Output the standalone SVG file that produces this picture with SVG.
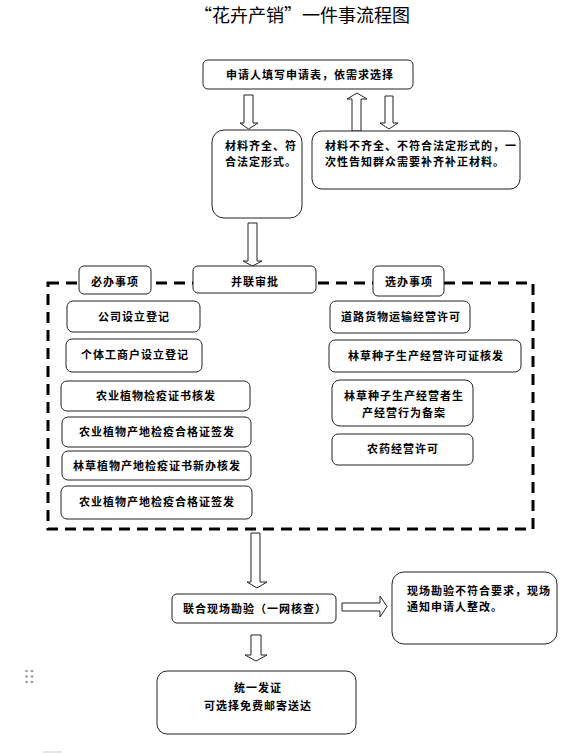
<svg xmlns="http://www.w3.org/2000/svg" width="583" height="753" viewBox="0 0 583 753">
<style>
.bg{fill:#fff}
.box{fill:#fff;stroke:#222;stroke-width:1}
.t{font-family:"Noto Sans CJK SC","Noto Sans",sans-serif;font-size:11px;font-weight:bold;fill:#000;letter-spacing:1px}
.c{text-anchor:middle}
.title{font-family:"Noto Sans CJK SC","Noto Sans",sans-serif;font-size:18px;fill:#000;text-anchor:middle}
.arr{fill:#fff;stroke:#222;stroke-width:1;stroke-linejoin:miter}
.dash{fill:none;stroke:#000;stroke-width:3;stroke-dasharray:11 7}
</style>
<rect class="bg" x="0" y="0" width="583" height="753"/>
<text class="title" x="302" y="22">“花卉产销”一件事流程图</text>

<g id="dashed-frame"><rect class="dash" x="48" y="283" width="485" height="246"/></g>

<g id="connectors">
<path class="arr" d="M244,95 H253 V123 H258 L248.5,129 L240,123 H244 Z"/>
<path class="arr" d="M352,131 V99 H347 L357,93 L367,99 H361 V131 Z"/>
<path class="arr" d="M385,96 H393 V123 H398 L389,129 L380,123 H385 Z"/>
<path class="arr" d="M248,223 H257 V261 H262 L252.5,266 L243,261 H248 Z"/>
<path class="arr" d="M251,533 H260 V582 H267 L257,588 L247,582 H251 Z"/>
<path class="arr" d="M342,603 H380 V596 L387,606.5 L380,617 V611 H342 Z"/>
<path class="arr" d="M251,635 H261 V655 H267 L256,661 L245,655 H251 Z"/>
</g>

<g id="n-apply"><rect class="box" x="203" y="60" width="210" height="29" rx="5"/><text class="t c" x="310" y="79">申请人填写申请表，依需求选择</text></g>
<g id="n-complete"><rect class="box" x="212" y="130" width="90" height="88" rx="12"/><text class="t" x="225" y="150">材料齐全、符</text><text class="t" x="225" y="166">合法定形式。</text></g>
<g id="n-incomplete"><rect class="box" x="312" y="131" width="208" height="58" rx="10"/><text class="t" x="325" y="150">材料不齐全、不符合法定形式的，一</text><text class="t" x="325" y="166">次性告知群众需要补齐补正材料。</text></g>

<g id="n-must"><rect class="box" x="79" y="266" width="72" height="28" rx="5"/><text class="t c" x="115" y="286">必办事项</text></g>
<g id="n-parallel"><rect class="box" x="193" y="266" width="123" height="27" rx="5"/><text class="t c" x="255" y="286">并联审批</text></g>
<g id="n-optional"><rect class="box" x="373" y="266" width="71" height="30" rx="5"/><text class="t c" x="409" y="286">选办事项</text></g>

<g id="n-l1"><rect class="box" x="67" y="301" width="133" height="31" rx="6"/><text class="t c" x="134" y="321">公司设立登记</text></g>
<g id="n-l2"><rect class="box" x="66" y="339" width="136" height="33" rx="6"/><text class="t c" x="135" y="359">个体工商户设立登记</text></g>
<g id="n-l3"><rect class="box" x="61" y="381" width="189" height="30" rx="6"/><text class="t c" x="156" y="400">农业植物检疫证书核发</text></g>
<g id="n-l4"><rect class="box" x="62" y="417" width="189" height="30" rx="6"/><text class="t c" x="157" y="436">农业植物产地检疫合格证签发</text></g>
<g id="n-l5"><rect class="box" x="62" y="451" width="189" height="29" rx="6"/><text class="t c" x="157" y="470">林草植物产地检疫证书新办核发</text></g>
<g id="n-l6"><rect class="box" x="61" y="486" width="191" height="33" rx="6"/><text class="t c" x="157" y="506">农业植物产地检疫合格证签发</text></g>

<g id="n-r1"><rect class="box" x="330" y="301" width="140" height="32" rx="6"/><text class="t c" x="401" y="321">道路货物运输经营许可</text></g>
<g id="n-r2"><rect class="box" x="329" y="340" width="192" height="32" rx="6"/><text class="t c" x="426" y="360">林草种子生产经营许可证核发</text></g>
<g id="n-r3"><rect class="box" x="332" y="380" width="141" height="46" rx="8"/><text class="t c" x="404" y="400">林草种子生产经营者生</text><text class="t c" x="404" y="417">产经营行为备案</text></g>
<g id="n-r4"><rect class="box" x="332" y="434" width="141" height="31" rx="6"/><text class="t c" x="403" y="453">农药经营许可</text></g>

<g id="n-inspect"><rect class="box" x="172" y="594" width="164" height="29" rx="5"/><text class="t c" x="255" y="613">联合现场勘验（一网核查）</text></g>
<g id="n-reject"><rect class="box" x="392" y="572" width="165" height="72" rx="12"/><text class="t" x="407" y="595">现场勘验不符合要求，现场</text><text class="t" x="407" y="611">通知申请人整改。</text></g>
<g id="n-issue"><rect class="box" x="157" y="671" width="199" height="63" rx="10"/><text class="t c" x="258" y="692">统一发证</text><text class="t c" x="258" y="710">可选择免费邮寄送达</text></g>

<g id="handle" fill="#999">
<circle cx="26.5" cy="671" r="1.3"/><circle cx="32" cy="671" r="1.3"/>
<circle cx="26.5" cy="676.5" r="1.3"/><circle cx="32" cy="676.5" r="1.3"/>
<circle cx="26.5" cy="682" r="1.3"/><circle cx="32" cy="682" r="1.3"/>
</g>
<line x1="43" y1="752" x2="62" y2="752" stroke="#ccc" stroke-width="1"/>
</svg>
